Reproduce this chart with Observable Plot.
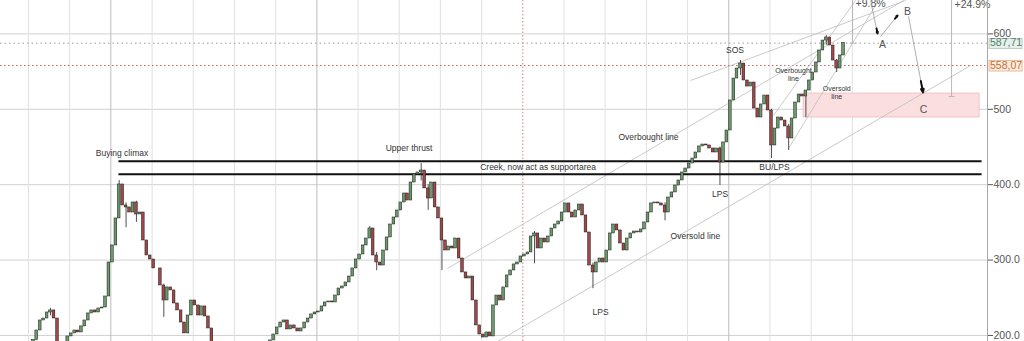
<!DOCTYPE html>
<html><head><meta charset="utf-8">
<script src="https://cdn.jsdelivr.net/npm/d3@7"></script>
<script src="https://cdn.jsdelivr.net/npm/@observablehq/plot@0.6"></script>
<style>html,body{margin:0;padding:0;background:#fff;overflow:hidden}#chart svg{display:block}</style>
</head><body><div id="chart"></div>
<script>
// ---- data (monthly candles, start May 1997) ----
const startYear = 1997, startMonth = 5;
const closes = [
178,182,180,186,184,188,186,190,189,194,206.6,219.9,222.5,230.5,233.2,222.5,186.7,184,190,198.7,
202.7,206.6,204,212,219.9,229.2,233.2,230.5,235.8,237.1,251.7,296.8,319.4,355.2,400.3,372.4,369.8,363.1,376.4,360.5,
363.1,326,306.1,300.8,288.9,288.9,266.3,246.4,263.7,259.7,242.4,233.2,217.2,202.7,226.5,246.4,239.8,226.5,238.5,225.2,
209.3,188,182,185,176,170,174,166,160,164,158,162,168,172,176,174,181,186,193.4,201.3,
210.6,217.2,219.9,208,213.3,209.3,205.3,209.3,217.2,222.5,227.9,230.5,231.8,238.5,243.8,245.1,243.8,253,262.3,265,
270.3,278.2,288.9,300.8,307.4,319.4,328.6,341.9,306.1,296.8,292.8,312.7,330,347.2,356.5,365.8,376.4,388.3,379,402.9,
413.5,416.2,418.8,395,381.7,402.9,369.8,355.2,326,312.7,318,315.4,328.6,302.1,283.6,275.6,278.2,246.4,213.3,201.3,
197.3,204,198.7,239.8,253,246.4,263.7,279.6,286.2,294.2,296.8,304.8,307.4,310.1,331.3,335.3,315.4,328.6,323.3,331.3,
341.9,347.2,351.2,363.1,375.1,363.1,356.5,365.8,373.7,359.2,336.6,292.8,283.6,296.8,302.1,296.8,312.7,335.3,347.2,339.3,
322,312.7,328.6,335.3,337.9,336.6,340.6,349.9,363.1,375.1,376.4,375.1,372.4,363.1,383,389.7,398.9,405.6,416.2,421.5,
428.1,434.7,442.7,450.7,453.3,452,448,442.7,448,429.4,456,471.9,511.7,540.8,554.1,560.7,538.2,530.2,535.5,501,
489.1,506.4,518.3,498.4,452,474.5,489.1,485.1,477.2,461.3,487.8,509,519.6,517,524.9,538.2,548.8,562.1,578,591.2,
595.2,584.6,564.7,554.1,571.4,587.71
];
// notable wicks: [month index, low, high]
const wicks = [
[14,226,236],[34,385,405.6],[36,343,376],[39,350,378],[47,224,268],[107,330,344.6],[109,286,310],
[122,405,428],[124,366,400],[128,286,330],[155,295,338],[172,262,296],[193,352,376],[209,398.9,450],
[215,545,564.7],[224,434.7,500],[229,445.4,480],[234,489,525],[240,585,597.9],[243,548.8,566]
];
const yTicks = [200,300,400,500,600];
const yTickLabels = ["200.0","300.0","400.0","500","600"];
const gridYears = d3.range(1998, 2019);
const majorYears = [2000, 2005, 2015];
const dottedYear = 2010;
const yearLabels = [2000, 2005, 2010, 2015];
const lastPrice = 587.71, markPrice = 558.07;
const lastLabel = "587,71", markLabel = "558,07";
const supportLevels = [431.2, 413.9];
const supportSpan = [2000.185, 2021.136];
const zone = {x1: 2016.815, x2: 2021.088, y1: 489.1, y2: 520.9};
const trendLines = [
  [2008.172, 288.9, 2019.243, 644.3],
  [2009.386, 192, 2020.869, 558.1],
  [2016.087, 491.8, 2018.077, 644.3],
  [2016.451, 448.0, 2018.636, 644.3],
  [2014.072, 538.2, 2019.291, 644.3]
];
const waveLegs = [
  [2018.442, 644.3, 2018.612, 600.5],
  [2018.685, 596.5, 2019.098, 624.4],
  [2019.365, 623.1, 2019.717, 522.3]
];
const waveLabels = [["A",2018.733,586.0],["B",2019.340,629.7],["C",2019.729,499.7]];
const measures = [[2018.005, 587.71, "+9.8%", 2018.077, 636.3],[2020.408, 517, "+24.9%", 2020.481, 633.7]];
const notes = [
  ["Buying climax", 2000.27, 441.4, 8.5],
  ["Upper thrust", 2007.24, 449.3, 8.5],
  ["Creek, now act as supportarea", 2010.37, 422.8, 8.5],
  ["Overbought line", 2013.05, 462.6, 8.5],
  ["LPS", 2011.89, 230.5, 8.5],
  ["Oversold line", 2014.19, 331.3, 8.5],
  ["LPS", 2014.79, 387.0, 8.5],
  ["SOS", 2015.15, 578.0, 8.5],
  ["BU/LPS", 2016.11, 422.8, 8.5],
  ["Overbought\nline", 2016.57, 546.1, 7],
  ["Oversold\nline", 2017.62, 522.3, 7]
];

// ---- helpers ----
const yr = d => { const y = Math.floor(d); const a = Date.UTC(y,0,1), b = Date.UTC(y+1,0,1); return new Date(a + (d - y) * (b - a)); };
const wickMap = new Map(wicks.map(w => [w[0], w]));
const candles = closes.map((c, i) => {
  const open = i ? closes[i-1] : c;
  const w = wickMap.get(i);
  return {
    date: new Date(Date.UTC(startYear, startMonth - 1 + i, 15)),
    open, close: c,
    low: Math.min(open, c, w ? w[1] : Infinity),
    high: Math.max(open, c, w ? w[2] : -Infinity)
  };
});
const up = candles.filter(d => d.close >= d.open);
const down = candles.filter(d => d.close < d.open);
const bx1 = d => d3.utcDay.offset(d.date, -12), bx2 = d => d3.utcDay.offset(d.date, 12);
const font = "Liberation Sans, Arial, sans-serif";

const plot = Plot.plot({
  width: 1024, height: 341,
  marginLeft: 0, marginRight: 37, marginTop: 0, marginBottom: 0,
  style: {fontFamily: font, background: "#fff", overflow: "hidden"},
  x: {type: "utc", domain: [yr(1997.32), yr(2021.28)], axis: null},
  y: {domain: [192, 644.3], label: null, axis: null},
  marks: [
    Plot.ruleY(yTicks, {stroke: "#d2d2d2", strokeWidth: 1}),
    Plot.ruleX(gridYears.filter(y => y !== dottedYear && !majorYears.includes(y)), {x: d => yr(d), stroke: "#e0e0e0"}),
    Plot.ruleX(majorYears, {x: d => yr(d), stroke: "#bdbdbd"}),
    Plot.ruleX([dottedYear], {x: d => yr(d), stroke: "#d08080", strokeDasharray: "1.5,2"}),
    Plot.text(yearLabels, {x: d => yr(d + 0.07), y: 644.3, text: d => String(d), textAnchor: "start", lineAnchor: "bottom", dy: -1, fontSize: 11, fill: "#888"}),
    Plot.ruleY([lastPrice], {stroke: "#9a9a9a", strokeDasharray: "1.5,3"}),
    Plot.ruleY([markPrice], {stroke: "#c86464", strokeDasharray: "1.5,2.5"}),
    Plot.rect([zone], {x1: d => yr(d.x1), x2: d => yr(d.x2), y1: "y1", y2: "y2", fill: "#fbdfe0", stroke: "#f0b9bc", strokeWidth: 0.8}),
    Plot.link(trendLines, {x1: d => yr(d[0]), y1: d => d[1], x2: d => yr(d[2]), y2: d => d[3], stroke: "#bcbcbc", strokeWidth: 0.8, clip: true}),
    Plot.link(supportLevels, {x1: () => yr(supportSpan[0]), x2: () => yr(supportSpan[1]), y1: d => d, y2: d => d, stroke: "#111", strokeWidth: 2}),
    Plot.ruleX(measures, {x: d => yr(d[0]), y1: d => d[1], y2: 644.3, stroke: "#aaa", strokeWidth: 0.8}),
    Plot.link(measures, {x1: d => yr(d[0] - 0.07), x2: d => yr(d[0] + 0.07), y1: d => d[1], y2: d => d[1], stroke: "#aaa", strokeWidth: 0.8}),
    Plot.text(measures, {x: d => yr(d[3]), y: d => d[4], text: d => d[2], textAnchor: "start", lineAnchor: "bottom", fontSize: 10.5, fill: "#555"}),
    Plot.ruleX(candles, {x: "date", y1: "low", y2: "high", stroke: "#222", strokeWidth: 0.8, clip: true}),
    Plot.rect(up, {x1: bx1, x2: bx2, y1: "open", y2: "close", fill: "#6a9a6a", stroke: "#1a1a1a", strokeWidth: 0.5, clip: true}),
    Plot.rect(down, {x1: bx1, x2: bx2, y1: "open", y2: "close", fill: "#a04848", stroke: "#1a1a1a", strokeWidth: 0.5, clip: true}),
    Plot.text(notes, {x: d => yr(d[1]), y: d => d[2], text: d => d[0], fontSize: d => d[3], fill: "#333", lineHeight: 1.1}),
    Plot.link(waveLegs, {x1: d => yr(d[0]), y1: d => d[1], x2: d => yr(d[2]), y2: d => d[3], stroke: "#9a9a9a", strokeWidth: 0.8}),
    Plot.arrow(waveLegs, {x1: d => yr(d[2] - 0.15 * (d[2] - d[0])), y1: d => d[3] - 0.15 * (d[3] - d[1]), x2: d => yr(d[2]), y2: d => d[3], stroke: "#111", strokeWidth: 2, headLength: 6, headAngle: 40}),
    Plot.text(waveLabels, {x: d => yr(d[1]), y: d => d[2], text: d => d[0], fontSize: 10.5, fill: "#555"}),
    Plot.ruleX([yr(2021.28)], {stroke: "#a8a8a8"}),
    Plot.axisY({anchor: "right", ticks: yTicks, tickFormat: d => yTickLabels[yTicks.indexOf(d)], tickSize: 5, tickPadding: 1, fontSize: 10.5, color: "#555", label: null}),
    Plot.rect([[lastPrice, "#e7f0ea", "#b9cfc0"]], {x1: () => yr(2021.330), x2: () => yr(2022.132), y1: 580.0, y2: 593.2, fill: d => d[1], stroke: d => d[2]}),
    Plot.text([lastLabel], {x: () => yr(2021.73), y: lastPrice + 0.8, text: d => d, fontSize: 10.5, fill: "#4f7e6c"}),
    Plot.rect([[markPrice, "#fcebdd", "#e9ba98"]], {x1: () => yr(2021.330), x2: () => yr(2022.132), y1: 550.1, y2: 564.1, fill: d => d[1], stroke: d => d[2]}),
    Plot.text([markLabel], {x: () => yr(2021.73), y: markPrice, text: d => d, fontSize: 10.5, fill: "#c0703c"})
  ]
});
document.getElementById("chart").append(plot);
</script>
</body></html>
